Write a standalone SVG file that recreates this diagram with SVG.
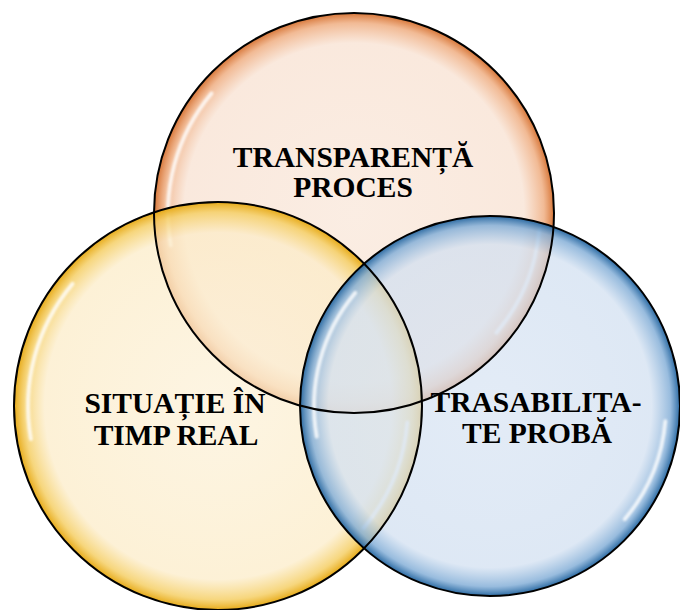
<svg xmlns="http://www.w3.org/2000/svg" width="680" height="610" viewBox="0 0 680 610">
<style>
.ring{fill:none;stroke:#000;stroke-width:2}
.hl{fill:none;stroke:#fff;stroke-width:4;stroke-linecap:round;opacity:0.8;filter:url(#blur)}
.lbl{font-family:"Liberation Serif","Times New Roman",serif;font-weight:bold;font-size:29.5px;fill:#000;text-anchor:middle}
</style>
<defs>
<filter id="blur" x="-20%" y="-20%" width="140%" height="140%"><feGaussianBlur stdDeviation="1.3"/></filter>
<radialGradient id="gO" cx="0.5" cy="0.5" r="0.5">
<stop offset="0" stop-color="#F9E6D8" stop-opacity="0.72"/>
<stop offset="0.85" stop-color="#F8E1D1" stop-opacity="0.74"/>
<stop offset="0.95" stop-color="#EFAE82" stop-opacity="0.85"/>
<stop offset="1" stop-color="#D67232" stop-opacity="0.97"/>
</radialGradient>
<radialGradient id="gY" cx="0.5" cy="0.5" r="0.5">
<stop offset="0" stop-color="#FCF1D8" stop-opacity="0.72"/>
<stop offset="0.85" stop-color="#FCECC8" stop-opacity="0.74"/>
<stop offset="0.95" stop-color="#F5CF66" stop-opacity="0.85"/>
<stop offset="1" stop-color="#E6A812" stop-opacity="0.97"/>
</radialGradient>
<radialGradient id="gB" cx="0.5" cy="0.5" r="0.5">
<stop offset="0" stop-color="#D8E4F3" stop-opacity="0.72"/>
<stop offset="0.85" stop-color="#D2E0F1" stop-opacity="0.74"/>
<stop offset="0.95" stop-color="#86B0D8" stop-opacity="0.85"/>
<stop offset="1" stop-color="#2566A0" stop-opacity="0.97"/>
</radialGradient>
</defs>
<g id="node-transparenta">
<circle cx="354" cy="213" r="200" fill="url(#gO)"/>
<path class="hl" d="M170.8,245.3 A186,186 0 0 1 211.5,93.4"/>
<path class="hl" d="M539.3,229.2 A186,186 0 0 1 496.5,332.6"/>
</g>
<g id="node-situatie">
<circle cx="218" cy="406" r="204" fill="url(#gY)"/>
<path class="hl" d="M30.9,439 A190,190 0 0 1 72.5,283.9"/>
<path class="hl" d="M407.3,422.6 A190,190 0 0 1 363.5,528.1"/>
</g>
<g id="node-trasabilitate">
<circle cx="490" cy="406" r="190" fill="url(#gB)"/>
<path class="hl" d="M316.7,436.6 A176,176 0 0 1 355.2,292.9"/>
<path class="hl" d="M665.3,421.3 A176,176 0 0 1 624.8,519.1"/>
</g>
<g id="outlines">
<circle class="ring" cx="354" cy="213" r="200"/>
<circle class="ring" cx="218" cy="406" r="204"/>
<circle class="ring" cx="490" cy="406" r="190"/>
</g>
<g id="labels">
<text class="lbl" x="353" y="167">TRANSPARENȚĂ</text>
<text class="lbl" x="353" y="197">PROCES</text>
<text class="lbl" x="175" y="413">SITUAȚIE ÎN</text>
<text class="lbl" x="176" y="445">TIMP REAL</text>
<text class="lbl" x="536" y="412">TRASABILITA-</text>
<text class="lbl" x="537" y="443">TE PROBĂ</text>
</g>
<g id="connectors"/>
</svg>
